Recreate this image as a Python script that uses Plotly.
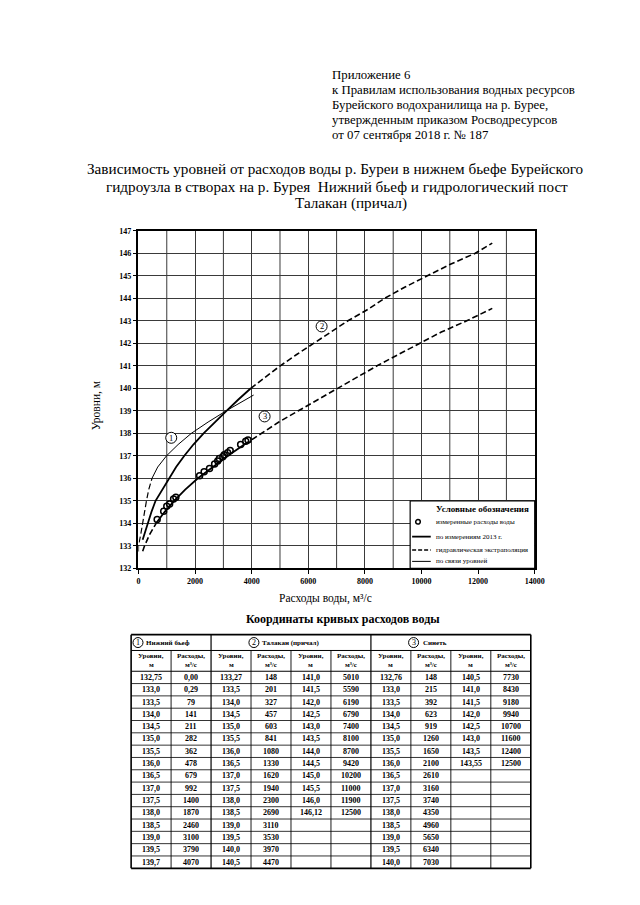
import plotly.graph_objects as go

# page is 640x905; the figure sits at an 8px body margin
OFF = 8
W, H = 624, 889
def px(x): return (x - OFF) / W
def py(y): return 1 - (y - OFF) / H

# ---- data ----
# Curve 1: Нижний бьеф
h1 = [132.75, 133.0, 133.5, 134.0, 134.5, 135.0, 135.5, 136.0, 136.5, 137.0, 137.5, 138.0, 138.5, 139.0, 139.5, 139.7]
q1 = [0.00, 0.29, 79, 141, 211, 282, 362, 478, 679, 992, 1400, 1870, 2460, 3100, 3790, 4070]
# Curve 2: Талакан (причал)
h2 = [133.27, 133.5, 134.0, 134.5, 135.0, 135.5, 136.0, 136.5, 137.0, 137.5, 138.0, 138.5, 139.0, 139.5, 140.0, 140.5,
      141.0, 141.5, 142.0, 142.5, 143.0, 143.5, 144.0, 144.5, 145.0, 145.5, 146.0, 146.12]
q2 = [148, 201, 327, 457, 603, 841, 1080, 1330, 1620, 1940, 2300, 2690, 3110, 3530, 3970, 4470,
      5010, 5590, 6190, 6790, 7400, 8100, 8700, 9420, 10200, 11000, 11900, 12500]
# end point of curve 2 as drawn on the chart
h2_chart_end = 146.45
# Curve 3: Синеть
h3 = [132.76, 133.0, 133.5, 134.0, 134.5, 135.0, 135.5, 136.0, 136.5, 137.0, 137.5, 138.0, 138.5, 139.0, 139.5, 140.0,
      140.5, 141.0, 141.5, 142.0, 142.5, 143.0, 143.5, 143.55]
q3 = [148, 215, 392, 623, 919, 1260, 1650, 2100, 2610, 3160, 3740, 4350, 4960, 5650, 6340, 7030,
      7730, 8430, 9180, 9940, 10700, 11600, 12400, 12500]
# measured discharges
meas_q = [660, 890, 1000, 1100, 1240, 1320, 2160, 2320, 2510, 2690, 2800, 2860, 2980, 3030, 3150, 3240, 3610, 3790, 3870]
meas_h = [134.17, 134.53, 134.76, 134.86, 135.08, 135.16, 136.11, 136.29, 136.43, 136.63, 136.77, 136.88, 136.96,
          137.05, 137.14, 137.24, 137.50, 137.65, 137.70]

x_labels = [0, 2000, 4000, 6000, 8000, 10000, 12000, 14000]
x_mid_grid = [1000, 3000, 5000, 7000, 9000, 11000, 13000]
y_ticks = list(range(132, 148))

SERIF = "Liberation Serif"
BLK = "black"
GRID = "#3a3a3a"

fig = go.Figure()

def seg(q, h, a, b, dash, width):
    fig.add_trace(go.Scatter(x=q[a:b], y=h[a:b], mode="lines",
                             line=dict(color=BLK, width=width, dash=dash),
                             showlegend=False, hoverinfo="skip"))

DASH = "6px,3px"
h2c = h2[:-1] + [h2_chart_end]
# curve 1
seg(q1, h1, 0, 8, DASH, 1.2)
seg(q1, h1, 7, len(q1), "solid", 1.0)
# curve 2
seg(q2, h2c, 0, 15, "solid", 1.8)
seg(q2, h2c, 14, len(q2), DASH, 1.6)
# curve 3
seg(q3, h3, 0, 4, DASH, 1.6)
seg(q3, h3, 3, 11, "solid", 1.8)
seg(q3, h3, 10, len(q3), DASH, 1.6)

fig.add_trace(go.Scatter(x=meas_q, y=meas_h, mode="markers",
                         marker=dict(symbol="circle-open", size=6, color=BLK, line=dict(width=1.5)),
                         showlegend=False, hoverinfo="skip"))

shapes = []
ann = []

# intermediate vertical grid lines
for g in x_mid_grid:
    shapes.append(dict(type="line", xref="x", yref="y", x0=g, x1=g, y0=132, y1=147,
                       line=dict(color=GRID, width=1), layer="below"))

def text(x, y, s, size, anchor="center", bold=False, angle=0, yanchor="middle"):
    ann.append(dict(x=px(x), y=py(y), xref="paper", yref="paper", text=s, showarrow=False,
                    xanchor=anchor, yanchor=yanchor, textangle=angle,
                    font=dict(family=SERIF, size=size, color=BLK, weight="bold" if bold else "normal")))

def hline(x0, x1, y, w=1):
    shapes.append(dict(type="line", xref="paper", yref="paper", x0=px(x0), x1=px(x1), y0=py(y), y1=py(y),
                       line=dict(color=BLK, width=w)))

def vline(x, y0, y1, w=1):
    shapes.append(dict(type="line", xref="paper", yref="paper", x0=px(x), x1=px(x), y0=py(y0), y1=py(y1),
                       line=dict(color=BLK, width=w)))

def circ_paper(x, y, r=5):
    shapes.append(dict(type="circle", xref="paper", yref="paper", xsizemode="pixel", ysizemode="pixel",
                       xanchor=px(x), yanchor=py(y), x0=-r, x1=r, y0=-r, y1=r,
                       line=dict(color=BLK, width=1)))

# ---- header texts ----
hdr = ["Приложение 6",
       "к Правилам использования водных ресурсов",
       "Бурейского водохранилища на р. Бурее,",
       "утвержденным приказом Росводресурсов",
       "от 07 сентября 2018 г. № 187"]
for i, s in enumerate(hdr):
    text(334, 72 + i * 15, s, 12.8, anchor="left")

text(340, 166, "Зависимость уровней от расходов воды р. Буреи в нижнем бьефе Бурейского", 15.2)
text(341, 184, "гидроузла в створах на р. Бурея  Нижний бьеф и гидрологический пост", 15.2)
text(356, 201, "Талакан (причал)", 15.2)

# axis titles
text(97, 405, "Уровни, м", 11.5, angle=-90)
text(330, 600, "Расходы воды, м³/с", 11.5)

# circled curve labels (data coords)
for (lx, ly, lab) in [(1157, 137.8, "1"), (6470, 142.75, "2"), (4456, 138.75, "3")]:
    shapes.append(dict(type="circle", xref="x", yref="y", xsizemode="pixel", ysizemode="pixel",
                       xanchor=lx, yanchor=ly, x0=-5.5, x1=5.5, y0=-5.5, y1=5.5,
                       line=dict(color=BLK, width=1), fillcolor="white"))
    ann.append(dict(x=lx, y=ly, xref="x", yref="y", text=lab, showarrow=False,
                    font=dict(family=SERIF, size=8.5, color=BLK)))

# ---- legend box ----
shapes.append(dict(type="rect", xref="paper", yref="paper", x0=px(416), x1=px(543), y0=py(570), y1=py(502),
                   line=dict(color=BLK, width=1.2), fillcolor="white", layer="above"))
text(490, 510, "Условные обозначения", 9, bold=True)
shapes.append(dict(type="circle", xref="paper", yref="paper", xsizemode="pixel", ysizemode="pixel",
                   xanchor=px(424), yanchor=py(523), x0=-2.3, x1=2.3, y0=-2.3, y1=2.3,
                   line=dict(color=BLK, width=1.5)))
text(440, 523, "измеренные расходы воды", 7, anchor="left")
shapes.append(dict(type="line", xref="paper", yref="paper", x0=px(418), x1=px(437), y0=py(538), y1=py(538),
                   line=dict(color=BLK, width=1.8)))
text(440, 538, "по измерениям 2013 г.", 7, anchor="left")
shapes.append(dict(type="line", xref="paper", yref="paper", x0=px(418), x1=px(437), y0=py(551.5), y1=py(551.5),
                   line=dict(color=BLK, width=1.6, dash="4px,2px")))
text(440, 551.5, "гидравлическая экстраполяция", 7, anchor="left")
shapes.append(dict(type="line", xref="paper", yref="paper", x0=px(418), x1=px(437), y0=py(563), y1=py(563),
                   line=dict(color=BLK, width=1)))
text(440, 563, "по связи уровней", 7, anchor="left")

# ---- table ----
def fmt_h(v):
    s = f"{v:.1f}" if abs(v * 10 - round(v * 10)) < 1e-6 else f"{v:.2f}"
    return s.replace(".", ",")

def fmt_q(v):
    return f"{v:.2f}".replace(".", ",") if v < 1 else f"{int(v)}"

text(348, 621, "Координаты кривых расходов воды", 12, bold=True)

L, CW = 131.5, 40.75
T0, T1, T2, RH, NR = 637, 653, 674, 12.44, 16
BOT = T2 + RH * NR
R = L + CW * 10

columns = [
    [fmt_h(v) for v in h1], [fmt_q(v) for v in q1],
    [fmt_h(v) for v in h2[:16]], [fmt_q(v) for v in q2[:16]],
    [fmt_h(v) for v in h2[16:]], [fmt_q(v) for v in q2[16:]],
    [fmt_h(v) for v in h3[:16]], [fmt_q(v) for v in q3[:16]],
    [fmt_h(v) for v in h3[16:]], [fmt_q(v) for v in q3[16:]],
]

hline(L, R, T0, 1.6)
hline(L, R, T1, 1)
hline(L, R, T2, 1.2)
for r in range(1, NR):
    hline(L, R, T2 + RH * r, 0.8)
hline(L, R, BOT, 1.8)
for c in range(11):
    if c in (0, 2, 6, 10):
        vline(L + CW * c, T0, BOT, 1.6 if c in (0, 10) else 1.2)
    else:
        vline(L + CW * c, T1, BOT, 0.9)

# header row 1
circ_paper(138.5, 645)
text(138.5, 645, "1", 8)
text(145, 645, "Нижний бьеф", 7, anchor="left", bold=True)
circ_paper(256.7, 645)
text(256.7, 645, "2", 8)
text(263, 645, "Талакан (причал)", 7, anchor="left", bold=True)
circ_paper(419.5, 645)
text(419.5, 645, "3", 8)
text(427, 645, "Синеть", 7, anchor="left", bold=True)

# header row 2 (two lines per cell)
for c in range(10):
    top, bot = ("Уровни,", "м") if c % 2 == 0 else ("Расходы,", "м³/с")
    cx = L + CW * c + CW / 2
    text(cx, 659, top, 7, bold=True)
    text(cx, 668, bot, 7, bold=True)

for c, col in enumerate(columns):
    for r, s in enumerate(col):
        text(L + CW * c + CW / 2, T2 + RH * r + RH / 2, s, 8, bold=True)

fig.update_layout(
    width=W, height=H, margin=dict(l=0, r=0, t=0, b=0),
    paper_bgcolor="white", plot_bgcolor="white",
    shapes=shapes, annotations=ann, showlegend=False,
    xaxis=dict(domain=[px(139), px(543)], range=[0, 14000], tickmode="array", tickvals=x_labels,
               ticktext=[str(v) for v in x_labels],
               showgrid=True, gridcolor=GRID, gridwidth=1,
               ticks="outside", ticklen=4, tickcolor=BLK,
               showline=True, linecolor=BLK, linewidth=1.5, mirror=True, zeroline=False,
               tickfont=dict(family=SERIF, size=8, color=BLK, weight="bold")),
    yaxis=dict(domain=[py(570), py(229)], range=[132, 147], tickmode="array", tickvals=y_ticks,
               ticktext=[str(v) for v in y_ticks],
               showgrid=True, gridcolor=GRID, gridwidth=1,
               ticks="outside", ticklen=4, tickcolor=BLK,
               showline=True, linecolor=BLK, linewidth=1.5, mirror=True, zeroline=False,
               tickfont=dict(family=SERIF, size=8, color=BLK, weight="bold")),
)

fig.write_html("out.html")
